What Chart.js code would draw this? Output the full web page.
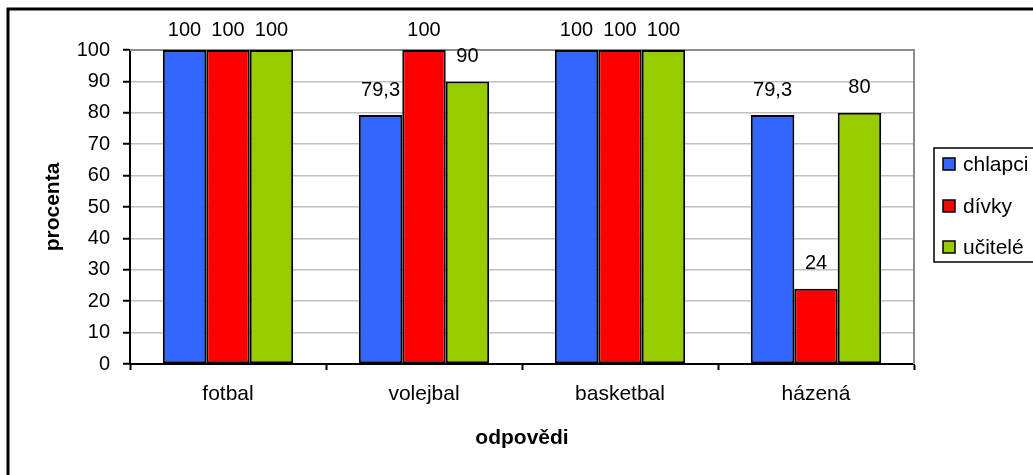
<!DOCTYPE html>
<html>
<head>
<meta charset="utf-8">
<script src="https://cdn.jsdelivr.net/npm/chart.js@4/dist/chart.umd.min.js"></script>
<style>
  html, body { margin: 0; padding: 0; background: #fff; }
  #wrap { width: 1033px; height: 475px; }
</style>
</head>
<body>
<div id="wrap"><canvas id="c" width="1033" height="475"></canvas></div>
<script>
const categories = ["fotbal", "volejbal", "basketbal", "házená"];
const chlapci = [100, 79.3, 100, 79.3];
const divky = [100, 100, 100, 24];
const ucitele = [100, 90, 100, 80];
const seriesNames = ["chlapci", "dívky", "učitelé"];
const seriesColors = ["#3366FF", "#FF0000", "#99CC00"];
const yTitle = "procenta";
const xTitle = "odpovědi";

const FONT = "'Liberation Sans', Arial, sans-serif";

const decorPlugin = {
  id: 'decor',
  beforeDraw(chart) {
    const ctx = chart.ctx;
    ctx.save();
    ctx.fillStyle = '#ffffff';
    ctx.fillRect(0, 0, chart.width, chart.height);
    ctx.restore();
  },
  beforeDatasetsDraw(chart) {
    const ctx = chart.ctx;
    const a = chart.chartArea;
    ctx.save();
    ctx.strokeStyle = '#8c8c8c';
    ctx.lineWidth = 2;
    ctx.beginPath();
    ctx.moveTo(a.left, a.top);
    ctx.lineTo(a.right, a.top);
    ctx.lineTo(a.right, a.bottom);
    ctx.stroke();
    ctx.restore();
  },
  afterDraw(chart) {
    const ctx = chart.ctx;
    ctx.save();
    // outer border
    ctx.strokeStyle = '#000';
    ctx.lineWidth = 3;
    ctx.strokeRect(8, 9, 1200, 1000);
    // data labels
    ctx.fillStyle = '#000';
    ctx.font = '20px ' + FONT;
    ctx.textAlign = 'center';
    ctx.textBaseline = 'middle';
    chart.data.datasets.forEach((ds, i) => {
      const meta = chart.getDatasetMeta(i);
      meta.data.forEach((bar, j) => {
        const v = ds.data[j];
        const txt = String(v).replace('.', ',');
        const y = Math.max(bar.y - 25, 30);
        ctx.fillText(txt, bar.x, y);
      });
    });
    // legend
    ctx.lineWidth = 1.5;
    ctx.strokeStyle = '#000';
    ctx.strokeRect(934, 148, 200, 114);
    const ys = [164, 206, 247];
    ctx.textAlign = 'left';
    ctx.font = '21px ' + FONT;
    chart.data.datasets.forEach((ds, i) => {
      ctx.fillStyle = ds.backgroundColor;
      ctx.fillRect(943, ys[i] - 6, 12, 12);
      ctx.strokeRect(943, ys[i] - 6, 12, 12);
      ctx.fillStyle = '#000';
      ctx.fillText(ds.label, 963, ys[i] + 1);
    });
    ctx.restore();
  }
};

const seriesData = [chlapci, divky, ucitele];

new Chart(document.getElementById('c'), {
  type: 'bar',
  data: {
    labels: categories,
    datasets: seriesNames.map((n, i) => ({
      label: n,
      data: seriesData[i],
      backgroundColor: seriesColors[i],
      borderColor: '#000',
      borderWidth: 2,
      borderSkipped: false,
      categoryPercentage: 0.665,
      barPercentage: 1.0
    }))
  },
  options: {
    responsive: false,
    devicePixelRatio: 1,
    animation: false,
    layout: { padding: { top: 50, right: 119, left: 0, bottom: 0 } },
    plugins: {
      legend: { display: false },
      tooltip: { enabled: false }
    },
    scales: {
      x: {
        afterFit(s) { s.height = 111; },
        grid: {
          display: true,
          drawOnChartArea: false,
          tickLength: 6,
          tickColor: '#000',
          tickWidth: 2
        },
        border: { color: '#000', width: 2 },
        ticks: {
          color: '#000',
          padding: 12,
          font: { family: FONT, size: 21 }
        },
        title: {
          display: true,
          text: xTitle,
          color: '#000',
          font: { family: FONT, size: 21, weight: 'bold' },
          padding: { top: 0, bottom: 24 }
        }
      },
      y: {
        min: 0,
        max: 100,
        afterFit(s) { s.width = 130; },
        ticks: {
          stepSize: 10,
          color: '#000',
          padding: 13,
          font: { family: FONT, size: 20 }
        },
        grid: {
          color: '#c0c0c0',
          lineWidth: 1.5,
          tickLength: 7,
          tickColor: '#000',
          tickWidth: 2
        },
        border: { color: '#000', width: 2 },
        title: {
          display: true,
          text: yTitle,
          color: '#000',
          font: { family: FONT, size: 21, weight: 'bold' },
          padding: { top: 41, bottom: 0 }
        }
      }
    }
  },
  plugins: [decorPlugin]
});
</script>
</body>
</html>
